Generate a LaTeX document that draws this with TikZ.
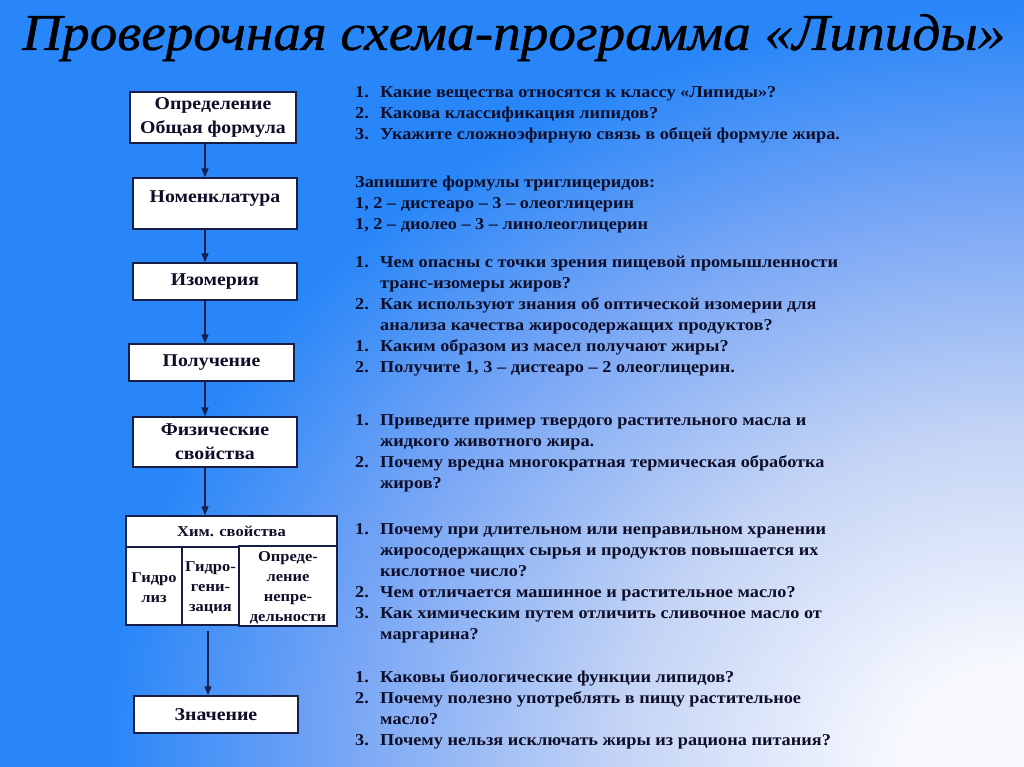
\documentclass[tikz,border=0pt]{standalone}
\usepackage{graphicx}
\usepackage{fontspec}
\setmainfont{Liberation Serif}[FakeStretch=1.1]
\newfontfamily\titlefont{Liberation Serif}[FakeBold=0.8]
\usetikzlibrary{arrows.meta}
\definecolor{bgblue}{RGB}{40,134,248}
\definecolor{bgmid}{RGB}{120,166,245}
\definecolor{bglight}{RGB}{196,212,245}
\definecolor{bgwhite}{RGB}{246,248,254}
\definecolor{txt}{RGB}{14,14,40}
\definecolor{boxline}{RGB}{22,30,70}
\definecolor{arrcol}{RGB}{20,32,80}
\pgfdeclareradialshading{bgsh}{\pgfpoint{0bp}{0bp}}{color(0bp)=(bgwhite); color(3.5bp)=(bgwhite); color(11bp)=(bglight); color(18.5bp)=(bgmid); color(25bp)=(bgblue); color(50bp)=(bgblue)}
\newcommand\boxfont{\fontsize{18}{24}\selectfont\bfseries}
\newcommand\qfont{\fontsize{16.6}{21}\selectfont\bfseries}
\newcommand\tabfont{\fontsize{15}{20}\selectfont\bfseries}
\newcommand\cellt[2]{\raisebox{#1}[\height][\depth]{\begin{tabular}{@{}c@{}}#2\end{tabular}}}
\begin{document}
\begin{tikzpicture}[x=1pt,y=-1pt,
  box/.style={draw=boxline, line width=1.4pt, fill=white, text=txt, font=\boxfont, align=center, inner sep=0pt},
  cell/.style={box, font=\tabfont},
  arr/.style={draw=arrcol, line width=1.4pt, -{Triangle[length=9pt,width=7pt]}},
  q/.style={anchor=base west, inner sep=0pt, text=txt, font=\qfont}]
\useasboundingbox (0,0) rectangle (1024,767);
\fill[bgblue] (0,0) rectangle (1024,767);
\begin{scope}
\clip (0,0) rectangle (1024,767);
\shade[shading=bgsh] (1024,767) ellipse [x radius=920pt, y radius=760pt];
\end{scope}
\node[anchor=base west, inner sep=0pt, text=black] (title) at (22,50)
  {\resizebox{983pt}{36pt}{\titlefont\itshape Проверочная схема-программа «Липиды»}};

\node[box, minimum width=166pt, minimum height=51pt] (n1) at (213,117.5) {Определение\\Общая формула};
\node[box, minimum width=164pt, minimum height=51pt, text height=13pt, text depth=15pt] (n2) at (215,203.5) {Номенклатура};
\node[box, minimum width=164pt, minimum height=37pt] (n3) at (215,281.5) {Изомерия};
\node[box, minimum width=165pt, minimum height=37pt] (n4) at (211.5,362.5) {Получение};
\node[box, minimum width=164pt, minimum height=50pt] (n5) at (215,442) {Физические\\свойства};
\node[cell, minimum width=211pt, minimum height=31pt] (h) at (231.5,531.5) {Хим. свойства};
\node[cell, minimum width=56pt, minimum height=78pt] (c1) at (154,586) {\cellt{-2pt}{Гидро\\лиз}};
\node[cell, minimum width=57pt, minimum height=78pt] (c2) at (210.5,586) {\cellt{-1pt}{Гидро-\\гени-\\зация}};
\node[cell, minimum width=98pt, minimum height=78pt] (c3) at (288,586) {\cellt{-1.5pt}{Опреде-\\ление\\непре-\\дельности}};
\node[box, minimum width=164pt, minimum height=37pt] (n7) at (216,714.5) {Значение};

\coordinate (ax) at (205,0);
\coordinate (bx) at (208,0);
\draw[arr] (n1.south -| ax) -- (n2.north -| ax);
\draw[arr] (n2.south -| ax) -- (n3.north -| ax);
\draw[arr] (n3.south -| ax) -- (n4.north -| ax);
\draw[arr] (n4.south -| ax) -- (n5.north -| ax);
\draw[arr] (n5.south -| ax) -- (h.north -| ax);
\draw[arr, shorten <=5pt] (c2.south -| bx) -- (n7.north -| bx);

\node[q] (q1) at (355,97.5) {\begin{tabular}[t]{@{}p{25pt}@{}l@{}}
1. & Какие вещества относятся к классу «Липиды»?\\
2. & Какова классификация липидов?\\
3. & Укажите сложноэфирную связь в общей формуле жира.\end{tabular}};
\node[q] (q2) at (355,188) {\begin{tabular}[t]{@{}l@{}}
Запишите формулы триглицеридов:\\
1, 2 – дистеаро – 3 – олеоглицерин\\
1, 2 – диолео – 3 – линолеоглицерин\end{tabular}};
\node[q] (q3) at (355,267) {\begin{tabular}[t]{@{}p{25pt}@{}l@{}}
1. & Чем опасны с точки зрения пищевой промышленности\\
   & транс-изомеры жиров?\\
2. & Как используют знания об оптической изомерии для\\
   & анализа качества жиросодержащих продуктов?\\
1. & Каким образом из масел получают жиры?\\
2. & Получите 1, 3 – дистеаро – 2 олеоглицерин.\end{tabular}};
\node[q] (q4) at (355,425) {\begin{tabular}[t]{@{}p{25pt}@{}l@{}}
1. & Приведите пример твердого растительного масла и\\
   & жидкого животного жира.\\
2. & Почему вредна многократная термическая обработка\\
   & жиров?\end{tabular}};
\node[q] (q5) at (355,534) {\begin{tabular}[t]{@{}p{25pt}@{}l@{}}
1. & Почему при длительном или неправильном хранении\\
   & жиросодержащих сырья и продуктов повышается их\\
   & кислотное число?\\
2. & Чем отличается машинное и растительное масло?\\
3. & Как химическим путем отличить сливочное масло от\\
   & маргарина?\end{tabular}};
\node[q] (q6) at (355,682) {\begin{tabular}[t]{@{}p{25pt}@{}l@{}}
1. & Каковы биологические функции липидов?\\
2. & Почему полезно употреблять в пищу растительное\\
   & масло?\\
3. & Почему нельзя исключать жиры из рациона питания?\end{tabular}};
\end{tikzpicture}
\end{document}
